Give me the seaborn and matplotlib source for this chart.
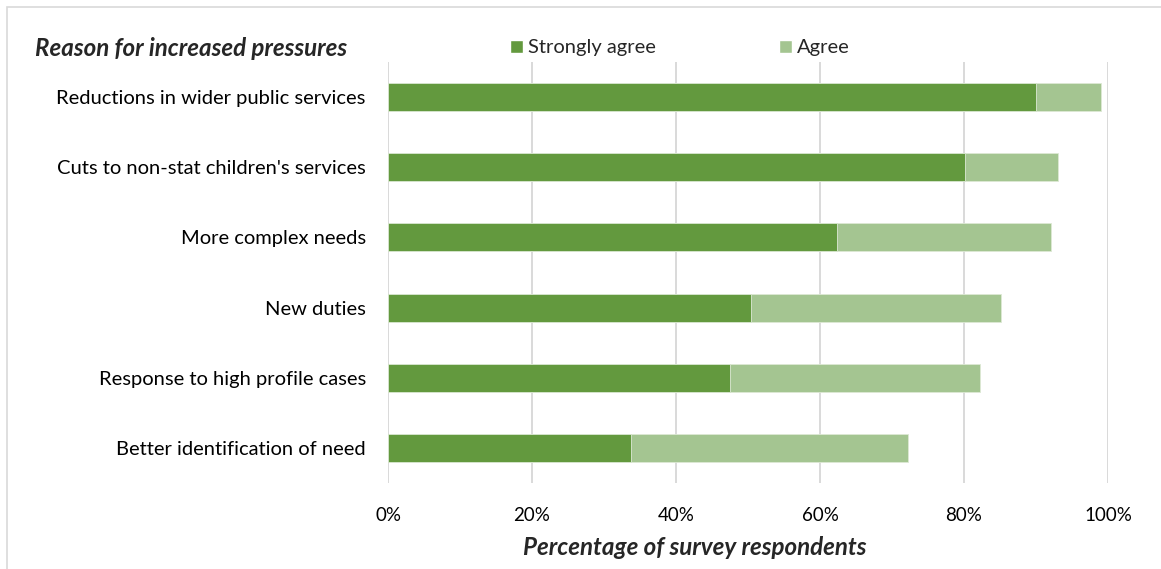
import pandas as pd
import matplotlib.pyplot as plt
import seaborn as sns
from matplotlib.patches import Patch, Rectangle
from matplotlib.ticker import PercentFormatter

# datos
reasons = [
    "Reductions in wider public services",
    "Cuts to non-stat children's services",
    "More complex needs",
    "New duties",
    "Response to high profile cases",
    "Better identification of need",
]
strongly_agree = [90.0, 80.2, 62.3, 50.4, 47.5, 33.7]
agree = [9.0, 12.9, 29.8, 34.7, 34.7, 38.5]

df = pd.DataFrame({"Reason": reasons, "Strongly agree": strongly_agree, "Agree": agree})
df["Total"] = df["Strongly agree"] + df["Agree"]

sns.set_style("white")
plt.rcParams["font.family"] = ["Lato", "DejaVu Sans"]

dark = "#63993E"
light = "#A4C591"

fig = plt.figure(figsize=(11.61, 5.69), dpi=100)
ax = fig.add_axes([0.3342, 0.1511, 0.6201, 0.7399])

# barras apiladas: primero el total (agree), encima strongly agree
sns.barplot(data=df, y="Reason", x="Total", color=light, width=0.4, saturation=1,
            edgecolor="#DDE9D5", linewidth=0.6, ax=ax, orient="h")
sns.barplot(data=df, y="Reason", x="Strongly agree", color=dark, width=0.4, saturation=1,
            edgecolor="#DDE9D5", linewidth=0.6, ax=ax, orient="h")

ax.set_xlim(0, 100)
ax.set_ylim(5.5, -0.5)
ax.set_xticks([0, 20, 40, 60, 80, 100])
ax.xaxis.set_major_formatter(PercentFormatter(decimals=0))
ax.grid(axis="x", color="#D9D9D9", linewidth=1.4)
ax.set_axisbelow(True)
for s in ax.spines.values():
    s.set_visible(False)
ax.tick_params(axis="both", length=0, colors="black")
ax.tick_params(axis="x", pad=17, labelsize=13.5)
ax.tick_params(axis="y", pad=16, labelsize=14.5)

ax.set_ylabel("")
ax.set_xlabel("Percentage of survey respondents", fontsize=17.4,
              fontweight="bold", fontstyle="italic")
ax.xaxis.set_label_coords(0.426, -0.152)
ax.xaxis.label.set_va("center")

fig.text(35 / 1161, 1 - 48 / 569, "Reason for increased pressures", fontsize=17.4,
         fontweight="bold", fontstyle="italic", va="center", ha="left")

handles = [Patch(facecolor=dark, label="Strongly agree"),
           Patch(facecolor=light, label="Agree")]
fig.legend(handles=handles, loc="center left", bbox_to_anchor=(510 / 1161, 1 - 48 / 569),
           ncol=2, frameon=False, fontsize=14.5, handlelength=0.65, borderpad=0,
           borderaxespad=0, handleheight=0.65, handletextpad=0.25, columnspacing=6.1)

# marco exterior del grafico
fig.patches.append(Rectangle((0.006, -0.1), 1.2, 1.088, transform=fig.transFigure,
                             fill=False, edgecolor="#D9D9D9", linewidth=1.2))

fig.savefig("out.png", dpi=100)
